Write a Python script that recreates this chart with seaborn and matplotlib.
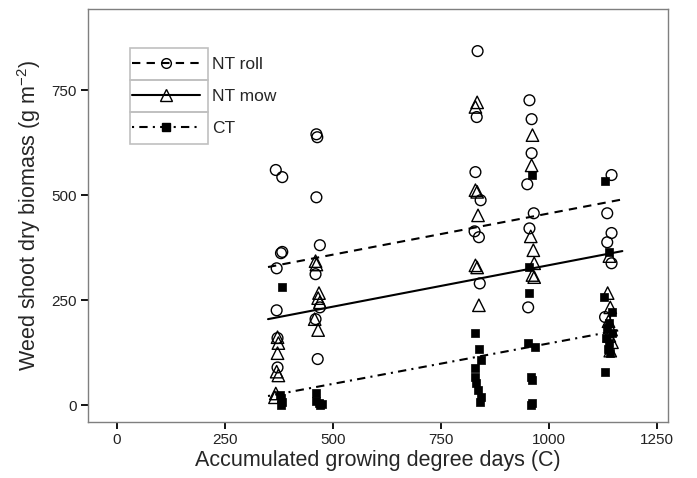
import numpy as np
import pandas as pd
import seaborn as sns
import matplotlib
matplotlib.use('Agg')
import matplotlib.pyplot as plt
from matplotlib.lines import Line2D
from matplotlib.patches import Rectangle

# 처리별 관측값 (x: 누적 생육도일, y: 잡초 건물중)
roll_gdd = [368, 383, 383, 380, 370, 370, 372, 372,
            462, 464, 462, 470, 460, 470, 460, 465,
            835, 833, 830, 842, 828, 838, 840,
            955, 960, 960, 950, 965, 955, 952,
            1145, 1135, 1145, 1135, 1145, 1130]
roll_bio = [560, 543, 365, 362, 326, 226, 160, 90,
            645, 638, 495, 381, 312, 233, 205, 110,
            843, 686, 555, 488, 414, 400, 290,
            726, 681, 600, 526, 457, 421, 233,
            548, 457, 410, 388, 338, 210]

mow_gdd = [372, 374, 372, 370, 374, 366, 368,
           460, 462, 468, 466, 470, 458, 466,
           834, 830, 830, 834, 836, 830, 834, 838,
           962, 960, 958, 964, 966, 962, 966,
           1140, 1136, 1142, 1138, 1144, 1140, 1146, 1142]
mow_bio = [162, 148, 124, 80, 71, 19, 28,
           343, 335, 267, 255, 245, 205, 179,
           721, 710, 512, 508, 452, 333, 328, 238,
           643, 571, 402, 369, 338, 310, 305,
           355, 267, 233, 200, 180, 165, 150, 130]

ct_gdd = [383, 380, 382, 380, 378,
          460, 462, 468, 475, 470,
          830, 838, 842, 830, 828, 832, 836, 842, 840,
          962, 955, 955, 952, 968, 958, 960, 960, 958,
          1130, 1140, 1128, 1145, 1140, 1135, 1145, 1132, 1140, 1136, 1142, 1130]
ct_bio = [281, 17, 8, 0, 25,
          30, 10, 5, 2, 0,
          171, 133, 107, 88, 67, 52, 36, 19, 7,
          548, 329, 267, 148, 138, 67, 60, 5, 0,
          533, 364, 257, 221, 195, 185, 171, 160, 148, 135, 124, 79]

# 회귀선 (양 끝점)
fit_gdd = [350, 1170]
roll_fit = [329, 490]
mow_fit = [205, 367]
ct_fit = [22, 180]

treatments = ['NT roll', 'NT mow', 'CT']

points = pd.concat([
    pd.DataFrame({'treatment': 'NT roll', 'gdd': roll_gdd, 'biomass': roll_bio}),
    pd.DataFrame({'treatment': 'NT mow', 'gdd': mow_gdd, 'biomass': mow_bio}),
    pd.DataFrame({'treatment': 'CT', 'gdd': ct_gdd, 'biomass': ct_bio}),
], ignore_index=True)

fits = pd.concat([
    pd.DataFrame({'treatment': 'NT roll', 'gdd': fit_gdd, 'fit': roll_fit}),
    pd.DataFrame({'treatment': 'NT mow', 'gdd': fit_gdd, 'fit': mow_fit}),
    pd.DataFrame({'treatment': 'CT', 'gdd': fit_gdd, 'fit': ct_fit}),
], ignore_index=True)

sns.set_style('white')
plt.rcParams['font.family'] = ['Liberation Sans', 'DejaVu Sans']
plt.rcParams['mathtext.fontset'] = 'custom'
plt.rcParams['mathtext.rm'] = 'Liberation Sans'
plt.rcParams['mathtext.it'] = 'Liberation Sans'

fig = plt.figure(figsize=(6.97, 4.78), dpi=100)
ax = fig.add_axes([0.126, 0.117, 0.832, 0.864])

dash_map = {'NT roll': (4, 3), 'NT mow': '', 'CT': (1, 2.5, 4, 2.5)}
sns.lineplot(data=fits, x='gdd', y='fit', style='treatment', dashes=dash_map,
             color='black', linewidth=1.5, legend=False, errorbar=None, ax=ax)

sns.scatterplot(data=points[points['treatment'] == 'NT roll'], x='gdd', y='biomass',
                marker='o', s=60, fc='none', ec='black', linewidth=1.0, ax=ax)
sns.scatterplot(data=points[points['treatment'] == 'NT mow'], x='gdd', y='biomass',
                marker='^', s=80, fc='none', ec='black', linewidth=1.0, ax=ax)
sns.scatterplot(data=points[points['treatment'] == 'CT'], x='gdd', y='biomass',
                marker='s', s=40, color='black', ec='black', linewidth=0.5, ax=ax)

ax.set_xlim(-67, 1275)
ax.set_ylim(-40, 943)
ax.set_xticks([0, 250, 500, 750, 1000, 1250])
ax.set_yticks([0, 250, 500, 750])
ax.set_xlabel('Accumulated growing degree days (C)', fontsize=15.5, labelpad=2)
ax.set_ylabel('Weed shoot dry biomass (g m$^{-2}$)', fontsize=15.5, labelpad=6)
ax.tick_params(axis='both', direction='out', length=5, width=1.3, color='black',
               labelsize=11, labelcolor='#222222', left=True, bottom=True, pad=3)
for sp in ax.spines.values():
    sp.set_color('#7f7f7f')
    sp.set_linewidth(1.0)

# 범례
handles = [
    Line2D([], [], color='black', lw=1.5, dashes=(4, 3), marker='o',
           markerfacecolor='none', markeredgecolor='black', markersize=7),
    Line2D([], [], color='black', lw=1.5, marker='^',
           markerfacecolor='none', markeredgecolor='black', markersize=8.5),
    Line2D([], [], color='black', lw=1.5, dashes=(1, 2.5, 4, 2.5), marker='s',
           markerfacecolor='black', markeredgecolor='black', markersize=6),
]
ax.legend(handles, treatments, loc='upper left', bbox_to_anchor=(0.076, 0.884),
          frameon=False, fontsize=12.5, handlelength=3.9, handletextpad=0.7,
          labelspacing=0.98, borderpad=0, borderaxespad=0)
for i, top in enumerate([0.906, 0.828, 0.751]):
    ax.add_patch(Rectangle((0.072, top - 0.077), 0.135, 0.077, transform=ax.transAxes,
                           fill=False, edgecolor='#c0c0c0', linewidth=1.2, zorder=5))

plt.savefig('out.png', dpi=100)
